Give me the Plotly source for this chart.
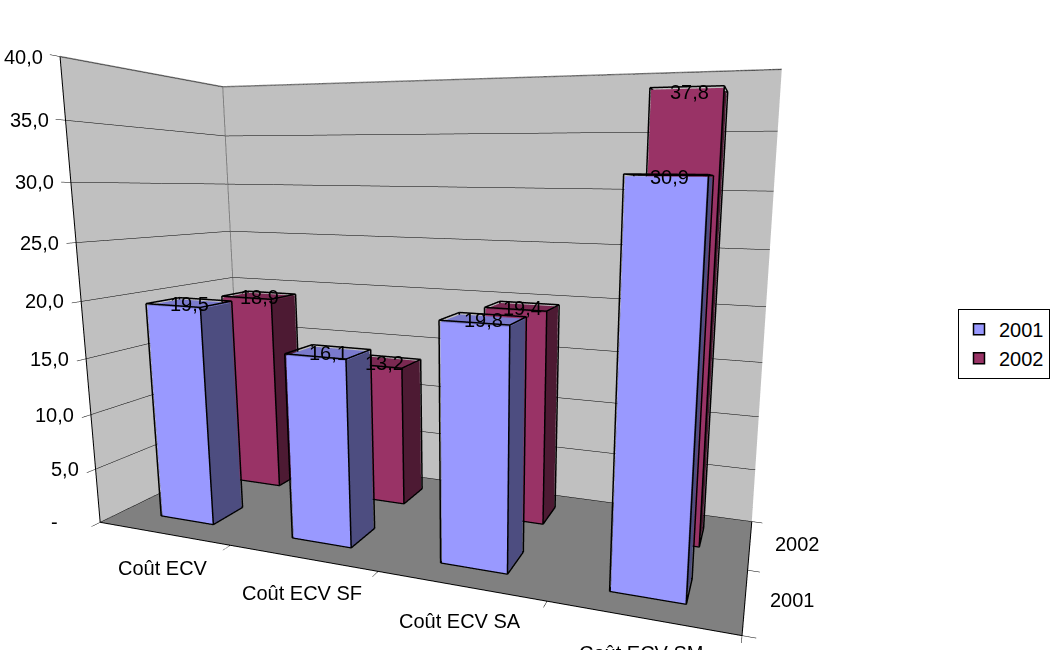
import plotly.graph_objects as go

# Coût ECV par type, 2001 et 2002
categories = ["Coût ECV", "Coût ECV SF", "Coût ECV SA", "Coût ECV SM"]
series_names = ["2001", "2002"]
values_2001 = [19.5, 16.1, 19.8, 30.9]
values_2002 = [18.9, 13.2, 19.4, 37.8]
value_ticks = [0, 5, 10, 15, 20, 25, 30, 35, 40]
value_tick_labels = ["-", "5,0", "10,0", "15,0", "20,0", "25,0", "30,0", "35,0", "40,0"]

# face shades per series: front, side, top
front_colors = ["#9999FF", "#993366"]
side_colors = ["#4D4D80", "#4D1A33"]
top_colors = ["#7A7ACC", "#7A2952"]

X_MAX, Y_MAX, Z_MAX = len(categories), len(series_names), 40
BAR_LO, BAR_HI = 0.3, 0.7  # bar footprint inside each category / series slot

fig = go.Figure()


def box_mesh(values, j):
    xs, ys, zs, ii, jj, kk, fc = [], [], [], [], [], [], []
    for i, v in enumerate(values):
        x0, x1 = i + BAR_LO, i + BAR_HI
        y0, y1 = j + BAR_LO, j + BAR_HI
        base = len(xs)
        for (x, y, z) in [(x0, y0, 0), (x1, y0, 0), (x1, y1, 0), (x0, y1, 0),
                          (x0, y0, v), (x1, y0, v), (x1, y1, v), (x0, y1, v)]:
            xs.append(x); ys.append(y); zs.append(z)
        tris = [((0, 1, 5), front_colors[j]), ((0, 5, 4), front_colors[j]),
                ((1, 2, 6), side_colors[j]), ((1, 6, 5), side_colors[j]),
                ((4, 5, 6), top_colors[j]), ((4, 6, 7), top_colors[j]),
                ((3, 2, 6), side_colors[j]), ((3, 6, 7), side_colors[j]),
                ((0, 3, 7), side_colors[j]), ((0, 7, 4), side_colors[j]),
                ((0, 1, 2), side_colors[j]), ((0, 2, 3), side_colors[j])]
        for (a, b, c), col in tris:
            ii.append(base + a); jj.append(base + b); kk.append(base + c); fc.append(col)
    return go.Mesh3d(x=xs, y=ys, z=zs, i=ii, j=jj, k=kk, facecolor=fc, flatshading=True,
                     lighting=dict(ambient=1, diffuse=0, specular=0, roughness=1, fresnel=0),
                     hoverinfo="skip", showlegend=False, showscale=False)


def box_edges(values, j):
    # outlines pushed a hair outside the faces so they are not hidden by them
    ex, ey, ez = [], [], []
    dx, dy, dz = 0.006, 0.006, 0.15
    for i, v in enumerate(values):
        x0, x1 = i + BAR_LO - dx, i + BAR_HI + dx
        y0, y1 = j + BAR_LO - dy, j + BAR_HI + dy
        z0, z1 = 0, v + dz
        c = [(x0, y0, z0), (x1, y0, z0), (x1, y1, z0), (x0, y1, z0),
             (x0, y0, z1), (x1, y0, z1), (x1, y1, z1), (x0, y1, z1)]
        for a, b in [(0, 1), (1, 2), (2, 3), (3, 0), (4, 5), (5, 6), (6, 7), (7, 4),
                     (0, 4), (1, 5), (2, 6), (3, 7)]:
            ex += [c[a][0], c[b][0], None]
            ey += [c[a][1], c[b][1], None]
            ez += [c[a][2], c[b][2], None]
    return go.Scatter3d(x=ex, y=ey, z=ez, mode="lines", line=dict(color="black", width=3),
                        hoverinfo="skip", showlegend=False)


series_values = [values_2001, values_2002]
for j, vals in enumerate(series_values):
    fig.add_trace(box_mesh(vals, j))
    fig.add_trace(box_edges(vals, j))

# grey rims of the side and back walls
fig.add_trace(go.Scatter3d(
    x=[0, 0, X_MAX, X_MAX, None, 0, 0],
    y=[0, Y_MAX, Y_MAX, Y_MAX, None, Y_MAX, Y_MAX],
    z=[Z_MAX, Z_MAX, Z_MAX, 0, None, 0, Z_MAX],
    mode="lines", line=dict(color="#808080", width=3), hoverinfo="skip", showlegend=False))

# value axis line with its tick marks
tx, ty, tz = [0, 0, None], [0, 0, None], [0, Z_MAX, None]
for v in value_ticks:
    tx += [0, -0.06, None]; ty += [0, 0, None]; tz += [v, v, None]
fig.add_trace(go.Scatter3d(x=tx, y=ty, z=tz, mode="lines", line=dict(color="black", width=2),
                           hoverinfo="skip", showlegend=False))

# legend entries
for j, name in enumerate(series_names):
    fig.add_trace(go.Scatter(x=[None], y=[None], mode="markers", name=name,
                             marker=dict(symbol="square", size=11, color=front_colors[j],
                                         line=dict(color="black", width=1.5))))

font = dict(family="Liberation Sans, Arial, sans-serif", size=20, color="black")
ann = []
for i, c in enumerate(categories):
    ann.append(dict(x=i + 0.5, y=0, z=0, text=c, showarrow=False, yshift=-35, font=font))
for j, s in enumerate(series_names):
    ann.append(dict(x=X_MAX, y=j + 0.5, z=0, text=s, showarrow=False, xanchor="left",
                    xshift=23, font=font))
for v, t in zip(value_ticks, value_tick_labels):
    ann.append(dict(x=0, y=0, z=v, text=t, showarrow=False, xanchor="right",
                    xshift=-15 if v else -40, font=font))
for j, vals in enumerate(series_values):
    for i, v in enumerate(vals):
        ann.append(dict(x=i + 0.5, y=j + 0.5, z=v, text=f"{v:.1f}".replace(".", ","),
                        showarrow=False, font=font))

axis_common = dict(showspikes=False, title=dict(text=""), zeroline=False, showticklabels=False,
                   showline=True, linecolor="black", linewidth=2,
                   ticks="outside", ticklen=9, tickcolor="black", tickwidth=1)
scene = dict(
    domain=dict(x=[0, 1], y=[0, 1]),
    xaxis=dict(range=[0, X_MAX], tickvals=list(range(X_MAX + 1)), showgrid=False,
               showbackground=True, backgroundcolor="#C0C0C0", **axis_common),
    yaxis=dict(range=[0, Y_MAX], tickvals=list(range(Y_MAX + 1)), showgrid=False,
               showbackground=True, backgroundcolor="#C0C0C0", **axis_common),
    zaxis=dict(range=[0, Z_MAX], tickvals=value_ticks, showgrid=True, gridcolor="black",
               gridwidth=1, showbackground=True, backgroundcolor="#808080", **axis_common),
    aspectmode="manual", aspectratio=dict(x=1.0, y=0.3547, z=0.7192),
    camera=dict(eye=dict(x=0.5093, y=-1.1044, z=0.1809),
                center=dict(x=0.1299, y=0.0884, z=-0.0388),
                up=dict(x=0.0212, y=-0.1071, z=1.0),
                projection=dict(type="perspective")),
    annotations=ann,
)

fig.update_layout(
    width=1050, height=650, margin=dict(l=0, r=0, t=0, b=0), template="none",
    paper_bgcolor="white", plot_bgcolor="rgba(0,0,0,0)",
    xaxis=dict(visible=False), yaxis=dict(visible=False),
    scene=scene,
    legend=dict(x=1, y=0.525, xanchor="right", yanchor="top", bordercolor="black", borderwidth=1,
                font=font, bgcolor="white"),
    showlegend=True,
)
fig.write_html("out.html")
